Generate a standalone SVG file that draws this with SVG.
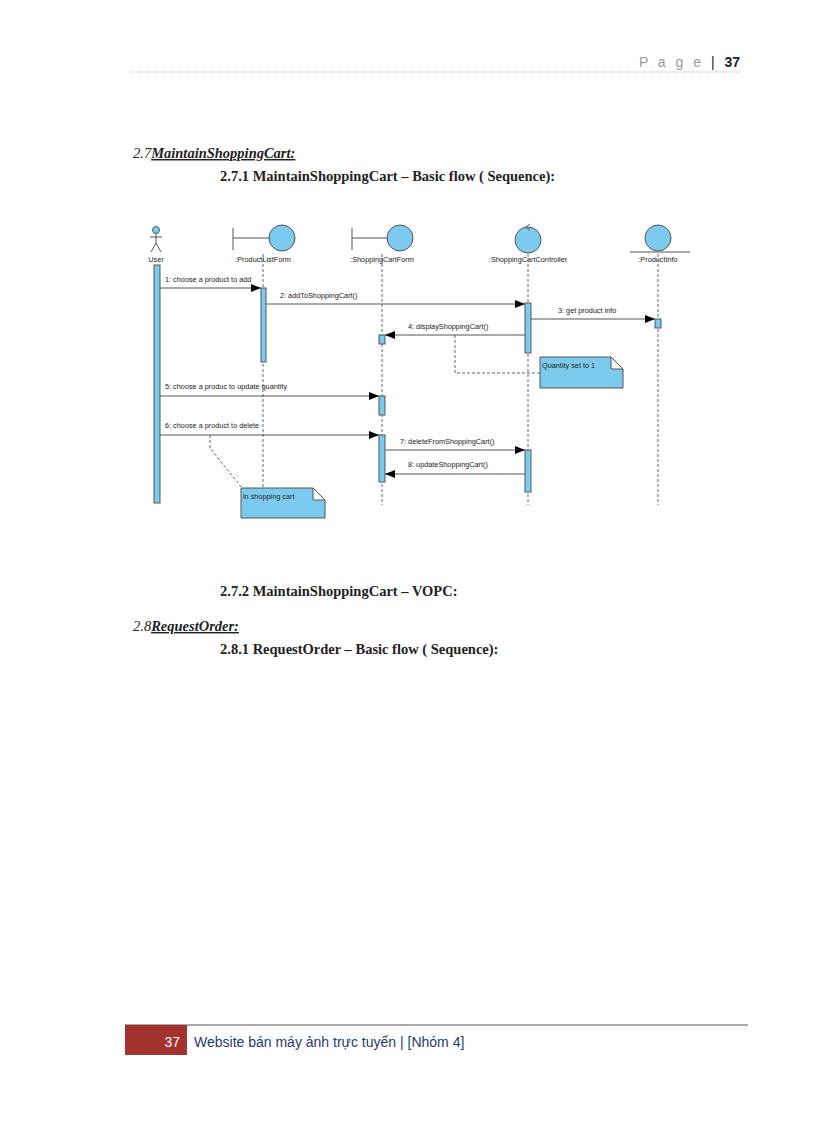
<svg xmlns="http://www.w3.org/2000/svg" width="816" height="1123" viewBox="0 0 816 1123">
<style>
.t{font-family:"Liberation Sans",Arial,sans-serif;font-size:7.3px;fill:#222}
.h{font-family:"Liberation Serif","DejaVu Serif",serif;font-size:14.5px;fill:#222}
.fill{fill:#7ccbee;stroke:#555;stroke-width:1}
.life{stroke:#666;stroke-width:1;stroke-dasharray:3,2;fill:none}
.msg{stroke:#555;stroke-width:1;fill:none}
.dash{stroke:#666;stroke-width:1;stroke-dasharray:3,2;fill:none}
</style>
<defs>
<marker id="a" markerWidth="10" markerHeight="8" refX="10" refY="4" orient="auto" markerUnits="userSpaceOnUse"><path d="M0,0 L10,4 L0,8 z" fill="#000"/></marker>
</defs>
<rect width="816" height="1123" fill="#fff"/>
<text x="740" y="67" text-anchor="end" font-family="Liberation Sans,sans-serif" font-size="14" fill="#999" letter-spacing="3">P a g e <tspan fill="#222">|</tspan> <tspan fill="#222" font-weight="bold" letter-spacing="0">37</tspan></text>
<line x1="130" y1="72" x2="742" y2="72" stroke="#bbb" stroke-dasharray="1,1"/>
<text x="133" y="158" class="h" font-style="italic">2.7<tspan text-decoration="underline" font-weight="bold">MaintainShoppingCart:</tspan></text>
<text x="220" y="181" class="h" font-weight="bold">2.7.1   MaintainShoppingCart  – Basic flow ( Sequence):</text>
<text x="220" y="596" class="h" font-weight="bold">2.7.2 MaintainShoppingCart  – VOPC:</text>
<text x="133" y="631" class="h" font-style="italic">2.8<tspan font-weight="bold" text-decoration="underline">RequestOrder:</tspan></text>
<text x="220" y="654" class="h" font-weight="bold">2.8.1   RequestOrder  – Basic flow ( Sequence):</text>

<g id="user"><circle cx="156" cy="230" r="3.5" class="fill"/><path d="M156,234 V243 M150,237 H162 M156,243 L151,252 M156,243 L161,252" class="msg"/><text x="156" y="262" class="t" text-anchor="middle">User</text><rect x="154" y="265" width="6" height="238" class="fill"/></g>
<g id="plf"><path d="M233,228 V250 M233,238 H269" class="msg"/><circle cx="282" cy="238" r="13" class="fill"/><text x="263" y="262" class="t" text-anchor="middle">:ProductListForm</text><line x1="263" y1="254" x2="263" y2="505" class="life"/><rect x="261" y="288" width="5" height="74" class="fill"/></g>
<g id="scf"><path d="M352,228 V250 M352,238 H387" class="msg"/><circle cx="400" cy="238" r="13" class="fill"/><text x="382" y="262" class="t" text-anchor="middle">:ShoppingCartForm</text><line x1="382" y1="254" x2="382" y2="505" class="life"/><rect x="379" y="335" width="6" height="9" class="fill"/><rect x="379" y="396" width="6" height="19" class="fill"/><rect x="379" y="435" width="6" height="47" class="fill"/></g>
<g id="scc"><circle cx="528" cy="240" r="13" class="fill"/><path d="M526,227 L530,224 M526,227 L530,230" class="msg"/><text x="528" y="262" class="t" text-anchor="middle">:ShoppingCartController</text><line x1="528" y1="254" x2="528" y2="505" class="life"/><rect x="525" y="303" width="6" height="50" class="fill"/><rect x="525" y="450" width="6" height="42" class="fill"/></g>
<g id="pi"><circle cx="658" cy="238" r="13" class="fill"/><line x1="630" y1="252" x2="690" y2="252" stroke="#555"/><text x="658" y="262" class="t" text-anchor="middle">:ProductInfo</text><line x1="658" y1="254" x2="658" y2="505" class="life"/><rect x="655" y="319" width="6" height="9" class="fill"/></g>
<g id="note1"><path d="M540,357 H611 L623,369 V388 H540 Z M611,357 V369 H623" class="fill"/><text x="542" y="368" class="t">Quantity set to 1</text></g>
<g id="note2"><path d="M241,488 H313 L325,500 V518 H241 Z M313,488 V500 H325" class="fill"/><text x="243" y="499" class="t">in shopping cart</text></g>
<g id="connectors">
<line x1="160" y1="288" x2="261" y2="288" class="msg" marker-end="url(#a)"/><text x="165" y="282" class="t">1: choose a product to add</text>
<line x1="266" y1="304" x2="525" y2="304" class="msg" stroke="#3a8fc0" marker-end="url(#a)"/><text x="280" y="298" class="t">2: addToShoppingCart()</text>
<line x1="531" y1="319" x2="655" y2="319" class="msg" marker-end="url(#a)"/><text x="558" y="313" class="t">3: get product info</text>
<line x1="525" y1="335" x2="385" y2="335" class="msg" marker-end="url(#a)"/><text x="408" y="329" class="t">4: displayShoppingCart()</text>
<line x1="160" y1="396" x2="379" y2="396" class="msg" marker-end="url(#a)"/><text x="165" y="389" class="t">5: choose a produc to update quantity</text>
<line x1="160" y1="435" x2="379" y2="435" class="msg" marker-end="url(#a)"/><text x="165" y="428" class="t">6: choose a product to delete</text>
<line x1="385" y1="450" x2="525" y2="450" class="msg" marker-end="url(#a)"/><text x="400" y="444" class="t">7: deleteFromShoppingCart()</text>
<line x1="525" y1="474" x2="385" y2="474" class="msg" marker-end="url(#a)"/><text x="408" y="467" class="t">8: updateShoppingCart()</text>
<path d="M455,335 V373 H540" class="dash"/>
<path d="M210,435 V448 L242,488" class="dash"/>
</g>
<line x1="125" y1="1025" x2="748" y2="1025" stroke="#555"/>
<rect x="125" y="1025" width="62" height="30" fill="#a3312e"/>
<text x="180" y="1047" text-anchor="end" font-family="Liberation Sans,sans-serif" font-size="14" fill="#fff">37</text>
<text x="194" y="1047" font-family="Liberation Sans,sans-serif" font-size="14" fill="#1e3a6e">Website bán máy ảnh trực tuyến | [Nhóm 4]</text>
</svg>
